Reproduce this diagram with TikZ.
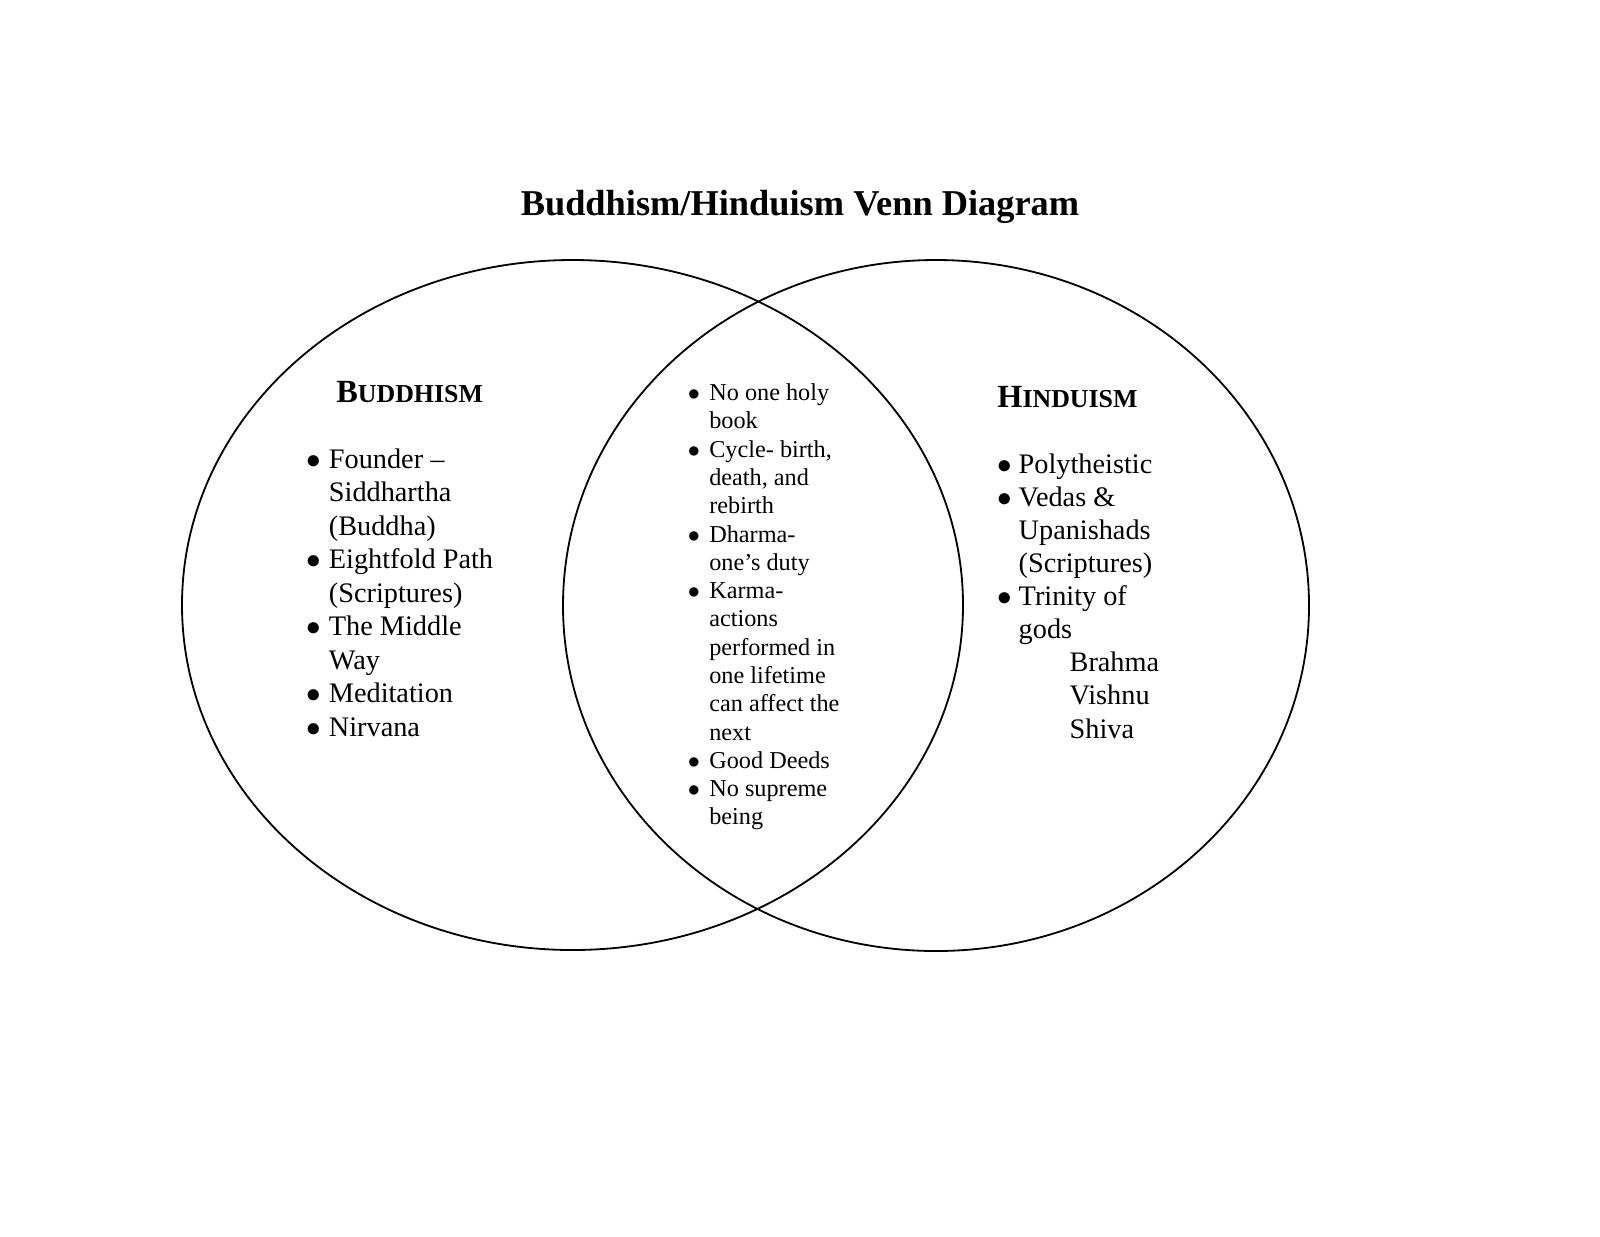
\documentclass[tikz,border=0pt]{standalone}
\usepackage{fontspec}
\setmainfont{Liberation Serif}
\usetikzlibrary{positioning}
\newcommand{\capword}[2]{{\fontsize{16}{19}\selectfont #1}{\fontsize{12.8}{15}\selectfont #2}}
\newcommand{\bul}{$\bullet$}
\tikzset{
  ring/.style={draw=black, line width=0.9pt},
  head/.style={anchor=base west, inner sep=0pt, font=\bfseries},
  sidelist/.style={anchor=base west, inner sep=0pt, font=\fontsize{14}{16.6}\selectfont},
  midlist/.style={anchor=base west, inner sep=0pt, font=\fontsize{12}{14}\selectfont},
}

\begin{document}
\begin{tikzpicture}[x=0.495pt, y=0.495pt]
    \useasboundingbox (0,0) rectangle (1600,-1236);
    % circles
    \draw[ring] (572.5,-605) ellipse [x radius=390.5, y radius=345];
    \draw[ring] (936,-605.5) ellipse [x radius=373, y radius=345.5];
    % title
    \node[anchor=base, inner sep=0pt, font=\fontsize{18}{21}\selectfont\bfseries] (title) at (800,-215) {Buddhism/Hinduism Venn Diagram};
    % left: buddhism
    \node[head] (bhead) at (336,-402) {\capword{B}{UDDHISM}};
    \node[sidelist] (blist) at (306.5,-468) {\begin{tabular}[t]{@{}l@{\hspace{3.7pt}}l@{}}
      \bul & Founder –\\
           & Siddhartha\\
           & (Buddha)\\
      \bul & Eightfold Path\\
           & (Scriptures)\\
      \bul & The Middle\\
           & Way\\
      \bul & Meditation\\
      \bul & Nirvana
    \end{tabular}};
    % middle: shared
    \node[midlist] (both) at (687.5,-400.7) {\begin{tabular}[t]{@{}l@{\hspace{4.6pt}}l@{}}
      \bul & No one holy\\
           & book\\
      \bul & Cycle- birth,\\
           & death, and\\
           & rebirth\\
      \bul & Dharma-\\
           & one’s duty\\
      \bul & Karma-\\
           & actions\\
           & performed in\\
           & one lifetime\\
           & can affect the\\
           & next\\
      \bul & Good Deeds\\
      \bul & No supreme\\
           & being
    \end{tabular}};
    % right: hinduism
    \node[head] (hhead) at (997,-407) {\capword{H}{INDUISM}};
    \node[sidelist, font=\fontsize{14}{16.4}\selectfont] (hlist) at (997.5,-473) {\begin{tabular}[t]{@{}l@{\hspace{3.1pt}}l@{}}
      \bul & Polytheistic\\
      \bul & Vedas \&\\
           & Upanishads\\
           & (Scriptures)\\
      \bul & Trinity of\\
           & gods\\
           & \hspace{25.2pt}Brahma\\
           & \hspace{25.2pt}Vishnu\\
           & \hspace{25.2pt}Shiva
    \end{tabular}};
\end{tikzpicture}
\end{document}
